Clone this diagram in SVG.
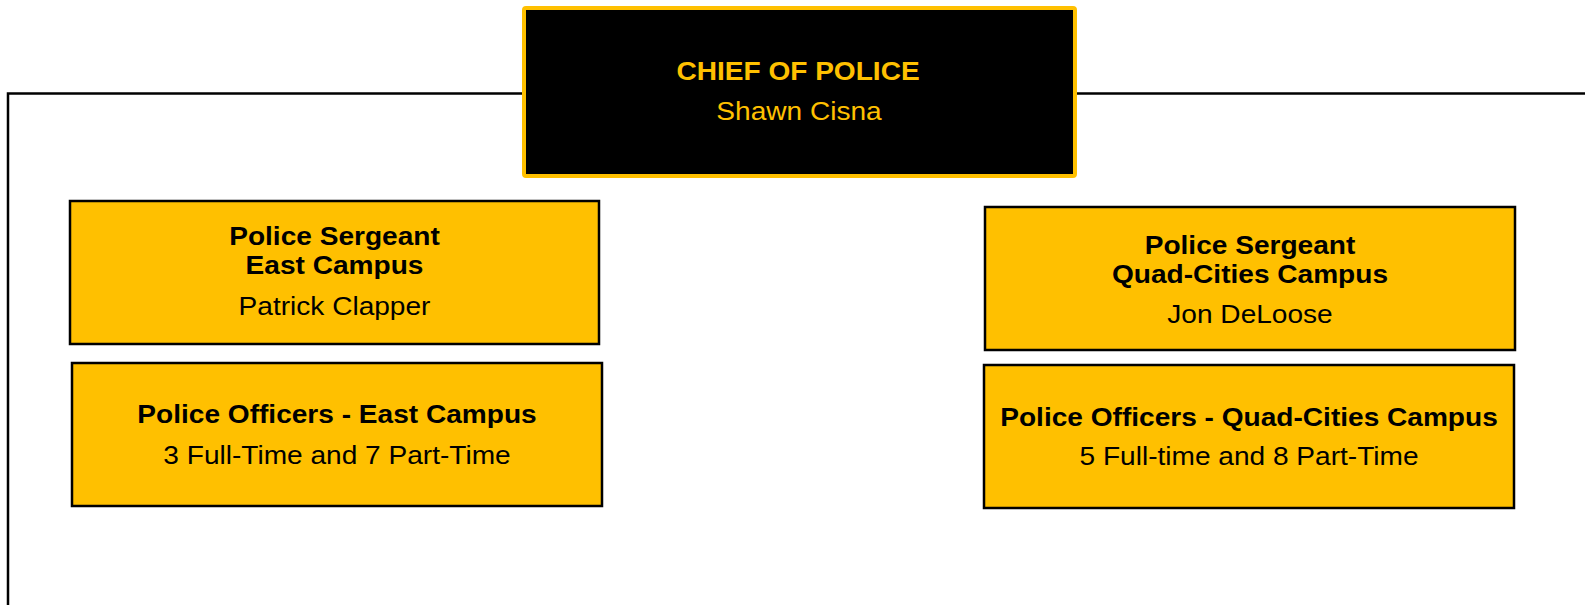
<svg xmlns="http://www.w3.org/2000/svg" width="1585" height="605" viewBox="0 0 1585 605">
  <style>
    .box { fill: #FFC000; stroke: #000000; stroke-width: 2.5; }
    .chief { fill: #000000; stroke: #FFC000; stroke-width: 4; }
    .link { fill: none; stroke: #000000; stroke-width: 2.5; }
    text { font-family: "Liberation Sans", Arial, sans-serif; font-size: 26px; text-anchor: middle; fill: #000000; }
    .b { font-weight: bold; }
    .gold { fill: #FFC000; }
  </style>

  <!-- connector lines -->
  <g id="connectors">
    <polyline class="link" points="8,605 8,93.5 524,93.5"/>
    <line class="link" x1="1075" y1="93.5" x2="1585" y2="93.5"/>
  </g>

  <g id="chief">
    <rect class="chief" x="524" y="8" width="551" height="168" rx="2"/>
    <text class="b gold" transform="translate(798,80) scale(1.08,1)">CHIEF OF POLICE</text>
    <text class="gold" transform="translate(799,120) scale(1.08,1)">Shawn Cisna</text>
  </g>

  <g id="sergeant-east">
    <rect class="box" x="70" y="201" width="529" height="143"/>
    <text class="b" transform="translate(334.5,245) scale(1.08,1)">Police Sergeant</text>
    <text class="b" transform="translate(334.5,274) scale(1.08,1)">East Campus</text>
    <text transform="translate(334.5,315) scale(1.08,1)">Patrick Clapper</text>
  </g>

  <g id="officers-east">
    <rect class="box" x="72" y="363" width="530" height="143"/>
    <text class="b" transform="translate(337,423) scale(1.08,1)">Police Officers - East Campus</text>
    <text transform="translate(337,464) scale(1.08,1)">3 Full-Time and 7 Part-Time</text>
  </g>

  <g id="sergeant-qc">
    <rect class="box" x="985" y="207" width="530" height="143"/>
    <text class="b" transform="translate(1250,254) scale(1.08,1)">Police Sergeant</text>
    <text class="b" transform="translate(1250,283) scale(1.08,1)">Quad-Cities Campus</text>
    <text transform="translate(1250,323) scale(1.08,1)">Jon DeLoose</text>
  </g>

  <g id="officers-qc">
    <rect class="box" x="984" y="365" width="530" height="143"/>
    <text class="b" transform="translate(1249,426) scale(1.08,1)">Police Officers - Quad-Cities Campus</text>
    <text transform="translate(1249,465) scale(1.08,1)">5 Full-time and 8 Part-Time</text>
  </g>
</svg>
